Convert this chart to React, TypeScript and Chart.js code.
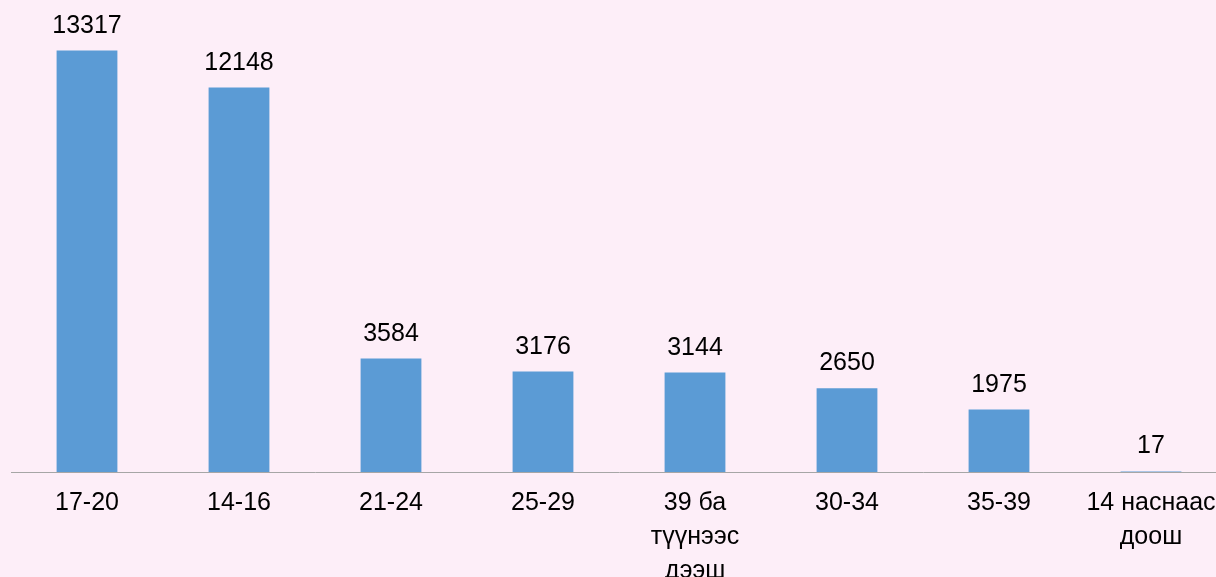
import React, { useEffect, useRef } from "react";
import { Chart, registerables } from "chart.js";

Chart.register(...registerables);

const categories: (string | string[])[] = [
  "17-20",
  "14-16",
  "21-24",
  "25-29",
  ["39 ба", "түүнээс", "дээш"],
  "30-34",
  "35-39",
  ["14 наснаас", "доош"],
];
const values: number[] = [13317, 12148, 3584, 3176, 3144, 2650, 1975, 17];

const BG = "#FDEEF8";
const FONT = "'Liberation Sans', Arial, sans-serif";

const valueLabels = {
  id: "valueLabels",
  afterDatasetsDraw(chart: any) {
    const ctx = chart.ctx;
    const meta = chart.getDatasetMeta(0);
    ctx.save();
    ctx.font = `25px ${FONT}`;
    ctx.fillStyle = "#000000";
    ctx.textAlign = "center";
    ctx.textBaseline = "alphabetic";
    meta.data.forEach((bar: any, i: number) => {
      ctx.fillText(String(values[i]), bar.x, bar.y - 18);
    });
    ctx.restore();
  },
};

export default function App() {
  const ref = useRef<HTMLCanvasElement | null>(null);
  useEffect(() => {
    document.body.style.background = BG;
    const chart = new Chart(ref.current as HTMLCanvasElement, {
      type: "bar",
      data: {
        labels: categories,
        datasets: [
          {
            data: values,
            backgroundColor: "#5B9BD5",
            borderWidth: 0,
            barPercentage: 0.4,
            categoryPercentage: 1,
          },
        ],
      },
      options: {
        responsive: false,
        animation: false,
        devicePixelRatio: 1,
        layout: { padding: { left: 11, right: 13, top: 29, bottom: 0 } },
        plugins: {
          legend: { display: false },
          tooltip: { enabled: false },
        },
        scales: {
          x: {
            grid: { display: false, drawTicks: false },
            border: { display: true, color: "#A6A6A6", width: 1 },
            ticks: {
              color: "#000000",
              padding: 14,
              maxRotation: 0,
              autoSkip: false,
              font: { family: FONT, size: 25, lineHeight: 1.36 },
            },
          },
          y: {
            display: false,
            min: 0,
            max: 14000,
          },
        },
      },
      plugins: [valueLabels],
    });
    return () => chart.destroy();
  }, []);
  return (
    <div
      style={{
        position: "fixed",
        left: 0,
        top: 0,
        width: 1216,
        height: 577,
        overflow: "hidden",
        background: BG,
      }}
    >
      <canvas
        ref={ref}
        width={1240}
        height={602}
        style={{ width: 1240, height: 602, display: "block" }}
      />
    </div>
  );
}
